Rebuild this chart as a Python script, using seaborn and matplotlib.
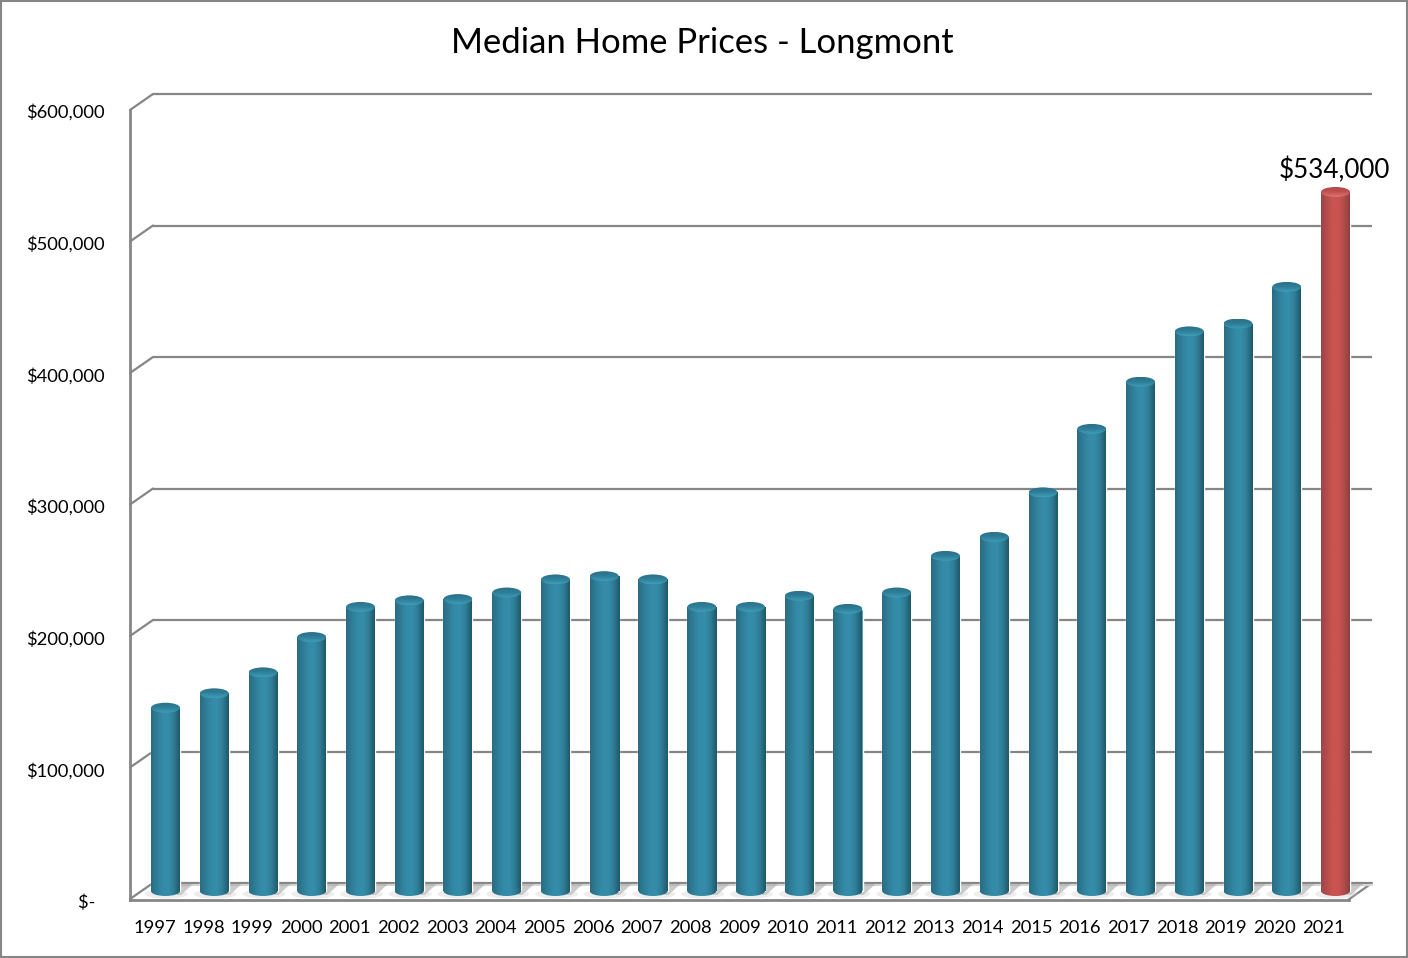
import numpy as np
import pandas as pd
import matplotlib
matplotlib.use("Agg")
import matplotlib.pyplot as plt
import seaborn as sns
from matplotlib.colors import LinearSegmentedColormap
from matplotlib.patches import Ellipse, Rectangle, Polygon
from matplotlib.transforms import ScaledTranslation

years = list(range(1997, 2022))
prices = [140000, 151000, 167000, 194000, 217000, 222000, 223000, 228000, 238000,
          240500, 238000, 217000, 217000, 225500, 215500, 228000, 256000, 270500,
          304500, 353000, 389000, 427500, 433500, 461500, 534000]
highlight_year = 2021
y_ticks = [0, 100000, 200000, 300000, 400000, 500000, 600000]
y_labels = ["$-\u00a0\u00a0", "$100,000", "$200,000", "$300,000", "$400,000", "$500,000", "$600,000"]
title = "Median Home Prices - Longmont"
callout = "$534,000"

W, H = 1408, 958
sns.set_theme(style="white")
plt.rcParams["font.family"] = ["Lato", "DejaVu Sans"]
GREY = "#868686"
fig = plt.figure(figsize=(W / 100, H / 100), dpi=100, facecolor="white")


def box(x0, y0, x1, y1):
    return [x0 / W, 1 - y1 / H, (x1 - x0) / W, (y1 - y0) / H]


fig.add_artist(Rectangle((0.0007, 0.001), 0.9986, 0.998, transform=fig.transFigure,
                         fill=False, ec=GREY, lw=1.5))
fig.text(702.5 / W, 1 - 43 / H, title, ha="center", va="center", fontsize=24.9, color="black")

# back wall with gridlines
back = fig.add_axes(box(153, 94, 1372, 883), facecolor="none")
back.set_ylim(0, 600000)
back.set_xlim(0, 1)
back.set_yticks(y_ticks)
back.set_xticks([])
back.tick_params(left=False, labelleft=False)
back.grid(False)
for s in back.spines.values():
    s.set_visible(False)
unit = 600000 / (883 - 94)
xtf = back.get_yaxis_transform()
for v in y_ticks:
    back.plot([0, 1], [v, v], color=GREY, lw=1.6, clip_on=False, solid_capstyle="butt")
    back.plot([-23 / 1219, 0], [v - 16 * unit, v], transform=xtf, color=GREY, lw=1.6, clip_on=False)
back.plot([1 - 24 / 1219, 1], [-17 * unit, 0], transform=xtf, color=GREY, lw=1.6, clip_on=False)
back.plot([0, 1], [-1.5 * unit, -1.5 * unit], color="#d4d4d4", lw=1.5, clip_on=False)

# front wall: value axis and year axis
front = fig.add_axes(box(130, 110, 1349, 900), facecolor="none")
front.set_ylim(0, 600000)
front.set_xlim((130 - 155) / 48.67, (1349 - 155) / 48.67)
front.set_yticks(y_ticks)
front.set_yticklabels(y_labels, fontsize=13.2, color="black")
front.set_xticks(range(len(years)))
front.set_xticklabels(years, fontsize=13.2, color="black")
front.tick_params(left=False, bottom=False, pad=0)
front.tick_params(axis="y", pad=12)
front.tick_params(axis="x", pad=8.5)
down = ScaledTranslation(0, -0.8 / 72, fig.dpi_scale_trans)
for lab in front.get_yticklabels():
    lab.set_transform(lab.get_transform() + down)
front.grid(False)
for side in ("top", "right"):
    front.spines[side].set_visible(False)
for side in ("left", "bottom"):
    front.spines[side].set_color(GREY)
    front.spines[side].set_linewidth(2)

# bars
ax = fig.add_axes(box(130, 94, 1372, 900), facecolor="none")
df = pd.DataFrame({"year": years, "price": prices})
colors = {y: ("#c9524f" if y == highlight_year else "#348ba8") for y in years}
sns.barplot(data=df, x="year", y="price", hue="year", palette=colors, legend=False,
            width=29 / 48.75, saturation=1, ax=ax)
SCALE = 1.309 / 1000
DX = 48.75
xlim = ((130 - 165.5) / DX, (1372 - 165.5) / DX)
ylim = ((891 - 900) / SCALE, (891 - 94) / SCALE)
ax.set_xlim(*xlim)
ax.set_ylim(*ylim)
ax.axis("off")

teal = LinearSegmentedColormap.from_list("t", ["#2a6c82", "#2f7d97", "#348ba8", "#358da9", "#2f7c95", "#1f5869"])
red = LinearSegmentedColormap.from_list("r", ["#97474a", "#b54d4c", "#cb5451", "#cb5451", "#b34c4b", "#8c403f"])
teal_cap = LinearSegmentedColormap.from_list("tc", ["#2a7088", "#2f7e98", "#3f9db8"])
red_cap = LinearSegmentedColormap.from_list("rc", ["#a9494a", "#c04f4e", "#de7370"])
grad = np.linspace(0, 1, 64).reshape(1, -1)
vgrad = np.linspace(0, 1, 32).reshape(-1, 1)
cap_h = 10 / SCALE
bars = [p for p in ax.patches if p.get_height() > 0]
for p, y in zip(bars, years):
    x0, w, h = p.get_x(), p.get_width(), p.get_height()
    cx = x0 + w / 2
    hot = y == highlight_year
    px = 1 / DX
    py = 1 / SCALE
    # floor shadow behind and glow below the cylinder
    ax.add_patch(Polygon([(cx + w / 2 - 2 * px, 7 * py), (cx + w / 2 + 13 * px, 7 * py),
                          (cx + w / 2 + 1 * px, -4 * py), (cx + w / 2 - 3 * px, -4 * py)],
                         fc="#a8a8a8", alpha=0.6, ec="none", zorder=1))
    ax.add_patch(Ellipse((cx + 1 * px, -3 * py), w + 14 * px, 9 * py, fc="#c4c4c4", alpha=0.3,
                         ec="none", zorder=1))
    p.set_zorder(2)
    base = Ellipse((cx, 0), w, cap_h, transform=ax.transData, fc="none", ec="none")
    ax.add_patch(base)
    im = ax.imshow(grad, cmap=red if hot else teal, extent=(x0, x0 + w, -cap_h / 2, h),
                   aspect="auto", zorder=3, interpolation="bilinear")
    body = Rectangle((x0, 0), w, h, transform=ax.transData, fc="none", ec="none")
    ax.add_patch(body)
    im.set_clip_path(body)
    im2 = ax.imshow(grad, cmap=red if hot else teal, extent=(x0, x0 + w, -cap_h / 2, cap_h / 2),
                    aspect="auto", zorder=3, interpolation="bilinear")
    im2.set_clip_path(base)
    cap = Ellipse((cx, h), w, cap_h, transform=ax.transData, fc="none", ec="none")
    ax.add_patch(cap)
    im3 = ax.imshow(vgrad, cmap=red_cap if hot else teal_cap,
                    extent=(x0, x0 + w, h - cap_h / 2, h + cap_h / 2), origin="upper",
                    aspect="auto", zorder=4, interpolation="bilinear")
    im3.set_clip_path(cap)
ax.set_xlim(*xlim)
ax.set_ylim(*ylim)

ax.text(len(years) - 1 - 0.03, prices[-1] + 8.7 / SCALE, callout, ha="center", va="bottom",
        fontsize=18.7, color="black", zorder=6)

fig.savefig("out.png", dpi=100)
